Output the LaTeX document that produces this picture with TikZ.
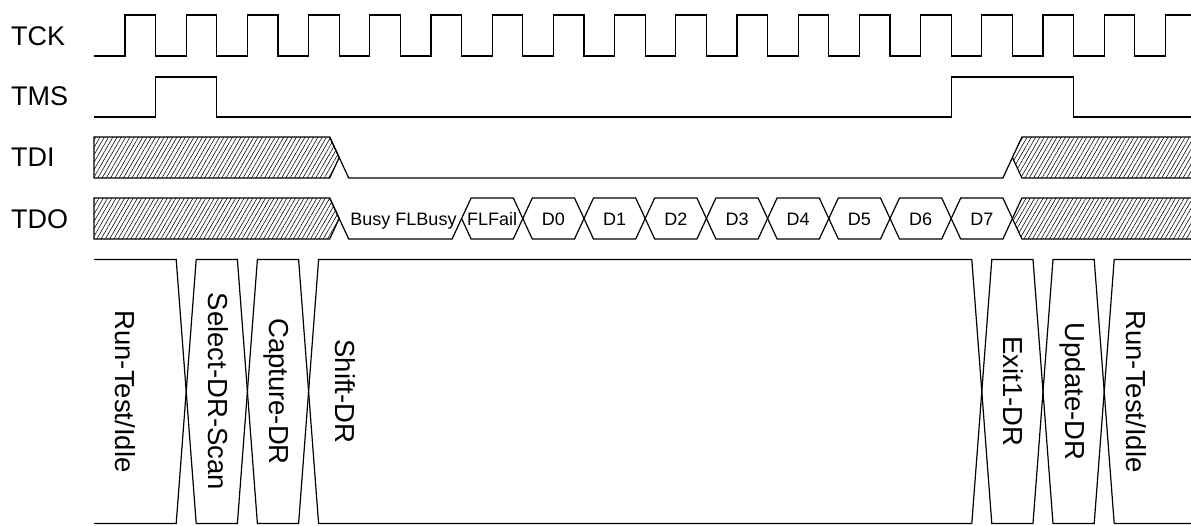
\documentclass[tikz,border=0pt]{standalone}
\usepackage{fontspec}
\setmainfont{Liberation Sans}
\usetikzlibrary{patterns.meta}

\tikzset{
  sig/.style={line width=1.2pt},
  hatch/.style={pattern={Lines[angle=60,distance=3.7pt,line width=0.55pt]}},
  siglabel/.style={font=\fontsize{27}{30}\selectfont, inner sep=0pt, anchor=base west},
  datalabel/.style={font=\fontsize{18}{20}\selectfont, inner sep=0pt, anchor=base},
  statelabel/.style={font=\fontsize{27.5}{30}\selectfont, inner sep=0pt, rotate=-90, anchor=base}
}

\begin{document}
\begin{tikzpicture}[x=1pt,y=-1pt]
  \useasboundingbox (0,0) rectangle (1191,525);

  % signal names
  \node[siglabel] (tck) at (11,45) {TCK};
  \node[siglabel] (tms) at (11,105) {TMS};
  \node[siglabel] (tdi) at (11,166) {TDI};
  \node[siglabel] (tdo) at (11,228) {TDO};

  % TCK
  \draw[sig] (94,56) foreach \k in {0,...,16} {
      -- ({125+61.2*\k},56) -- ({125+61.2*\k},15)
      -- ({155.6+61.2*\k},15) -- ({155.6+61.2*\k},56) }
    -- (1165.4,56) -- (1165.4,15) -- (1191,15);

  % TMS
  \draw[sig] (94,117) -- (155.6,117) -- (155.6,77) -- (216.8,77) -- (216.8,117)
    -- (951.2,117) -- (951.2,77) -- (1073.6,77) -- (1073.6,117) -- (1191,117);

  % TDI
  \draw[sig,hatch] (94,137) -- (329.7,137) -- (339.2,157.5) -- (329.7,178) -- (94,178) -- cycle;
  \draw[sig] (329.7,137) -- (348.7,178) -- (1002.9,178) -- (1021.9,137) -- (1191,137);
  \fill[hatch] (1012.4,157.5) -- (1021.9,137) -- (1191,137) -- (1191,178) -- (1021.9,178) -- cycle;
  \draw[sig] (1012.4,157.5) -- (1021.9,178) -- (1191,178);

  % TDO
  \draw[sig,hatch] (94,198) -- (329.7,198) -- (339.2,218.5) -- (329.7,239) -- (94,239) -- cycle;
  \draw[sig] (329.7,198) -- (348.7,239) -- (452.1,239) -- (461.6,218.5);
  \foreach \j in {5,...,13} {
    \pgfmathsetmacro{\ta}{155.6+61.2*\j}
    \pgfmathsetmacro{\tb}{\ta+61.2}
    \draw[sig] (\ta,218.5) -- ({\ta+9.5},198) -- ({\tb-9.5},198) -- (\tb,218.5)
      -- ({\tb-9.5},239) -- ({\ta+9.5},239) -- cycle;
  }
  \fill[hatch] (1012.4,218.5) -- (1021.9,198) -- (1191,198) -- (1191,239) -- (1021.9,239) -- cycle;
  \draw[sig] (1191,198) -- (1021.9,198) -- (1012.4,218.5) -- (1021.9,239) -- (1191,239);

  \node[datalabel] (busy) at (403.5,225.7) {Busy FLBusy};
  \foreach \j/\txt in {5/FLFail,6/D0,7/D1,8/D2,9/D3,10/D4,11/D5,12/D6,13/D7}
    \node[datalabel] (d\j) at ({186.2+61.2*\j},225.7) {\txt};

  % TAP states
  \draw[sig] (94,259.5) -- (176.2,259.5) -- (186.2,391.5) -- (176.2,523.5) -- (94,523.5);
  \foreach \a/\b in {186.2/247.4,247.4/308.6,308.6/981.8,981.8/1043,1043/1104.2}
    \draw[sig] (\a,391.5) -- ({\a+10},259.5) -- ({\b-10},259.5) -- (\b,391.5)
      -- ({\b-10},523.5) -- ({\a+10},523.5) -- cycle;
  \draw[sig] (1191,259.5) -- (1114.2,259.5) -- (1104.2,391.5) -- (1114.2,523.5) -- (1191,523.5);

  \node[statelabel] (idle1) at (115,391.5) {Run-Test/Idle};
  \node[statelabel] (seldr) at (208.2,391.5) {Select-DR-Scan};
  \node[statelabel] (capdr) at (269.4,391.5) {Capture-DR};
  \node[statelabel] (shdr) at (335,391.5) {Shift-DR};
  \node[statelabel] (ex1dr) at (1003.8,391.5) {Exit1-DR};
  \node[statelabel] (updr) at (1065,391.5) {Update-DR};
  \node[statelabel] (idle2) at (1126.2,391.5) {Run-Test/Idle};
\end{tikzpicture}
\end{document}
